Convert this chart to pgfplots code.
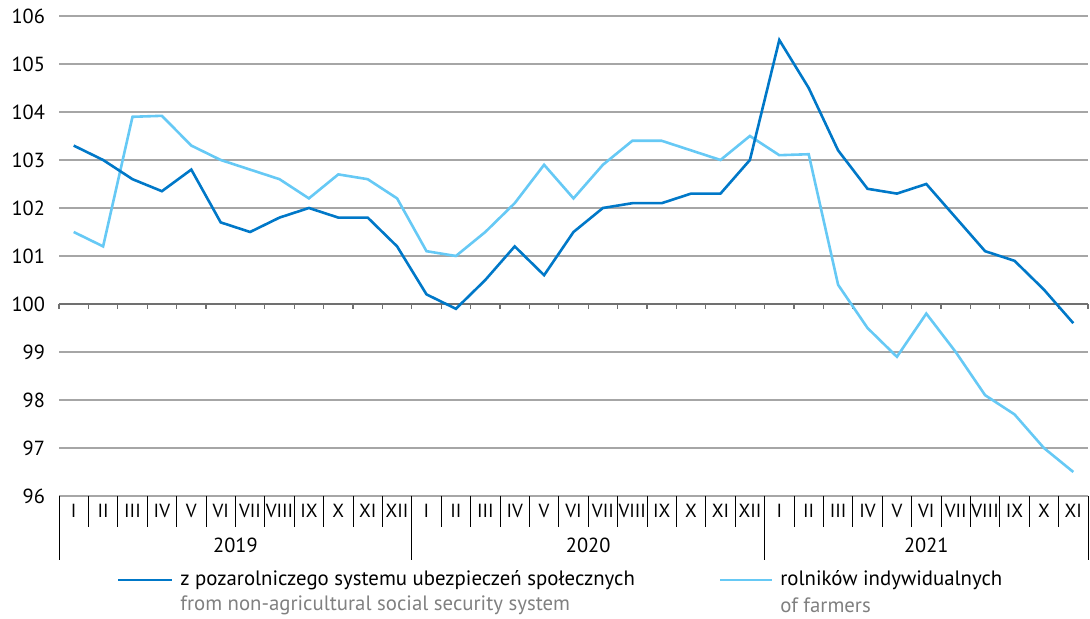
\documentclass[border=0pt]{standalone}
\usepackage{fontspec}
\setmainfont{PT Sans}
\usepackage{pgfplots}
\pgfplotsset{compat=1.18}
\definecolor{dblue}{HTML}{0078C8}
\definecolor{lblue}{HTML}{66C9F5}
\definecolor{gridc}{HTML}{A6A6A6}
\definecolor{axc}{HTML}{707070}
\definecolor{engc}{HTML}{808080}

\begin{document}
\begin{tikzpicture}
\begin{axis}[name=ax, scale only axis, width=514.5pt, height=240pt,
  xmin=0, xmax=35, ymin=96, ymax=106,
  ytick={96,97,...,106}, ymajorgrids,
  grid style={gridc, line width=0.6pt},
  axis line style={draw=none}, major tick length=0pt,
  xtick={0.5,1.5,2.5,3.5,4.5,5.5,6.5,7.5,8.5,9.5,10.5,11.5,
         12.5,13.5,14.5,15.5,16.5,17.5,18.5,19.5,20.5,21.5,22.5,23.5,
         24.5,25.5,26.5,27.5,28.5,29.5,30.5,31.5,32.5,33.5,34.5},
  xticklabels={I,II,III,IV,V,VI,VII,VIII,IX,X,XI,XII,
               I,II,III,IV,V,VI,VII,VIII,IX,X,XI,XII,
               I,II,III,IV,V,VI,VII,VIII,IX,X,XI},
  clip=false,
  /pgf/number format/assume math mode=true,
  tick label style={font=\fontsize{10.2}{12}\selectfont},
  xticklabel style={anchor=center, yshift=-7.5pt, font=\fontsize{9.5}{11}\selectfont},
  yticklabel style={xshift=-3.5pt},
]
% dark axis line at 100 with small ticks
\draw[axc, line width=0.8pt] (axis cs:0,100) -- (axis cs:35,100);
\pgfplotsinvokeforeach{0,...,35}{
  \draw[axc, line width=0.6pt] (axis cs:#1,100) -- ([yshift=-2.5pt]axis cs:#1,100);
  \draw[black, line width=0.5pt] (axis cs:#1,96) -- ([yshift=-15.5pt]axis cs:#1,96);
}
\pgfplotsinvokeforeach{0,12,24,35}{
  \draw[black, line width=0.5pt] (axis cs:#1,96) -- ([yshift=-32pt]axis cs:#1,96);
}
\node[font=\fontsize{10.2}{12}\selectfont] at ([yshift=-24.5pt]axis cs:6,96) {2019};
\node[font=\fontsize{10.2}{12}\selectfont] at ([yshift=-24.5pt]axis cs:18,96) {2020};
\node[font=\fontsize{10.2}{12}\selectfont] at ([yshift=-24.5pt]axis cs:29.5,96) {2021};

\addplot[lblue, line width=1.3pt] coordinates {
  (0.5,101.5) (1.5,101.2) (2.5,103.9) (3.5,103.92) (4.5,103.3) (5.5,103.0)
  (6.5,102.8) (7.5,102.6) (8.5,102.2) (9.5,102.7) (10.5,102.6) (11.5,102.2)
  (12.5,101.1) (13.5,101.0) (14.5,101.5) (15.5,102.1) (16.5,102.9) (17.5,102.2)
  (18.5,102.9) (19.5,103.4) (20.5,103.4) (21.5,103.2) (22.5,103.0) (23.5,103.5)
  (24.5,103.1) (25.5,103.12) (26.5,100.4) (27.5,99.5) (28.5,98.9) (29.5,99.8)
  (30.5,99.0) (31.5,98.1) (32.5,97.7) (33.5,97.0) (34.5,96.5)};
\addplot[dblue, line width=1.3pt] coordinates {
  (0.5,103.3) (1.5,103.0) (2.5,102.6) (3.5,102.35) (4.5,102.8) (5.5,101.7)
  (6.5,101.5) (7.5,101.8) (8.5,102.0) (9.5,101.8) (10.5,101.8) (11.5,101.2)
  (12.5,100.2) (13.5,99.9) (14.5,100.5) (15.5,101.2) (16.5,100.6) (17.5,101.5)
  (18.5,102.0) (19.5,102.1) (20.5,102.1) (21.5,102.3) (22.5,102.3) (23.5,103.0)
  (24.5,105.5) (25.5,104.5) (26.5,103.2) (27.5,102.4) (28.5,102.3) (29.5,102.5)
  (30.5,101.8) (31.5,101.1) (32.5,100.9) (33.5,100.3) (34.5,99.6)};

% legend
\draw[dblue, line width=1.3pt] ([xshift=29.5pt,yshift=-42pt]rel axis cs:0,0) -- ([xshift=56.5pt,yshift=-42pt]rel axis cs:0,0);
\node[anchor=west, inner sep=0pt, font=\fontsize{10.4}{12}\selectfont]
  at ([xshift=60.5pt,yshift=-42pt]rel axis cs:0,0) {z pozarolniczego systemu ubezpieczeń społecznych};
\node[anchor=west, inner sep=0pt, text=engc, font=\fontsize{10.4}{12}\selectfont]
  at ([xshift=60.5pt,yshift=-54.5pt]rel axis cs:0,0) {from non-agricultural social security system};
\draw[lblue, line width=1.3pt] ([xshift=330.5pt,yshift=-42pt]rel axis cs:0,0) -- ([xshift=356.5pt,yshift=-42pt]rel axis cs:0,0);
\node[anchor=west, inner sep=0pt, font=\fontsize{10.4}{12}\selectfont]
  at ([xshift=360.5pt,yshift=-42pt]rel axis cs:0,0) {rolników indywidualnych};
\node[anchor=west, inner sep=0pt, text=engc, font=\fontsize{10.4}{12}\selectfont]
  at ([xshift=360.5pt,yshift=-54.5pt]rel axis cs:0,0) {of farmers};
\end{axis}
\pgfresetboundingbox
\path ([xshift=-29.5pt,yshift=-61.5pt]ax.south west) rectangle ([xshift=1pt,yshift=8pt]ax.north east);
\end{tikzpicture}
\end{document}
